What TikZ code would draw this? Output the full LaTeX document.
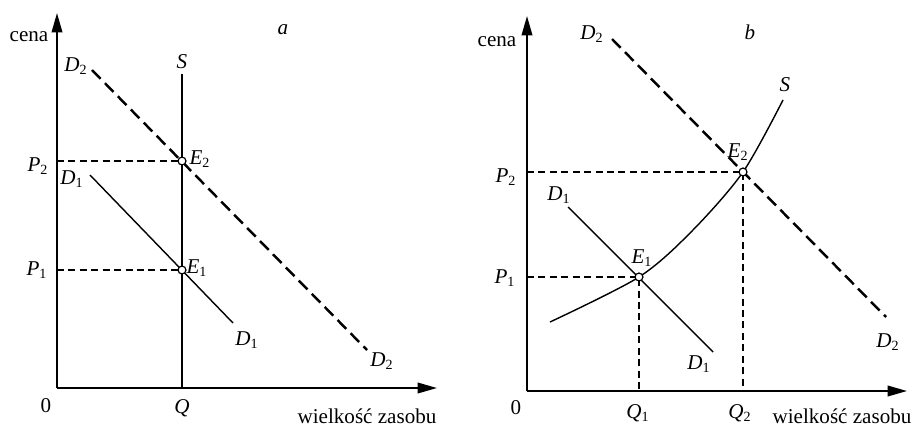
\documentclass[tikz,border=0pt]{standalone}
\usepackage{fontspec}
\setmainfont{Liberation Serif}
\usepackage{tikz}
\usetikzlibrary{arrows.meta}
\newcommand{\lbl}[2]{\textit{#1}\textsubscript{#2}}

\begin{document}
\begin{tikzpicture}[x=0.02cm,y=-0.02cm,
  axis/.style={line width=1.1pt,-{Triangle[length=11pt,width=6pt]}},
  curve/.style={line width=0.8pt},
  shifted/.style={line width=1.4pt,dash pattern=on 7pt off 3.5pt},
  guide/.style={line width=0.7pt,dash pattern=on 4pt off 2.5pt},
  eq/.style={circle,draw,line width=0.7pt,fill=white,inner sep=0pt,minimum size=4.5pt},
  lab/.style={font=\fontsize{12}{14}\selectfont,inner sep=0pt}]
\useasboundingbox (0,0) rectangle (915,426);
% panel a: fixed supply
\coordinate (a-O) at (57,388); \coordinate (a-Y) at (57,13); \coordinate (a-X) at (437,388);
\coordinate (a-Stop) at (182,74); \coordinate (a-Q) at (182,388);
\coordinate (a-E1) at (182,270); \coordinate (a-E2) at (182,161);
\coordinate (a-P1) at (57,270); \coordinate (a-P2) at (57,161);
\coordinate (a-D1s) at (90,175); \coordinate (a-D1e) at (233,323);
\coordinate (a-D2s) at (92,70); \coordinate (a-D2e) at (367,350);
\draw[axis] (a-O) -- (a-Y);
\draw[axis] (a-O) -- (a-X);
\draw[curve] (a-Q) -- (a-Stop);
\draw[curve] (a-D1s) -- (a-D1e);
\draw[shifted] (a-D2s) -- (a-D2e);
\draw[guide] (a-P1) -- (a-E1);
\draw[guide] (a-P2) -- (a-E2);
\node[eq] (a-e1) at (a-E1) {};
\node[eq] (a-e2) at (a-E2) {};
\node[lab] (a-cena) at (29,37) {cena};
\node[lab] (a-tag) at (283,30) {\textit{a}};
\node[lab] (a-S) at (182,62) {\textit{S}};
\node[lab] (a-D2a) at (76,66) {\lbl{D}{2}};
\node[lab] (a-D2b) at (382,361) {\lbl{D}{2}};
\node[lab] (a-D1a) at (72,179) {\lbl{D}{1}};
\node[lab] (a-D1b) at (247,340) {\lbl{D}{1}};
\node[lab] (a-E2l) at (200,159) {\lbl{E}{2}};
\node[lab] (a-E1l) at (197,268) {\lbl{E}{1}};
\node[lab] (a-P2l) at (38,166) {\lbl{P}{2}};
\node[lab] (a-P1l) at (37,270) {\lbl{P}{1}};
\node[lab] (a-zero) at (46,406) {0};
\node[lab] (a-Ql) at (182,408) {\textit{Q}};
\node[lab] (a-xl) at (367,416) {wielkość zasobu};
% panel b: rising supply
\coordinate (b-O) at (527,391); \coordinate (b-Y) at (527,16); \coordinate (b-X) at (907,391);
\coordinate (b-E1) at (639,277); \coordinate (b-E2) at (743,172);
\coordinate (b-P1) at (527,277); \coordinate (b-P2) at (527,172);
\coordinate (b-Q1) at (639,391); \coordinate (b-Q2) at (743,391);
\coordinate (b-S0) at (550,322); \coordinate (b-Sm) at (692,231); \coordinate (b-S1) at (783,100);
\coordinate (b-D1s) at (568,207); \coordinate (b-D1e) at (713,352);
\coordinate (b-D2s) at (612,39); \coordinate (b-D2e) at (886,317);
\draw[axis] (b-O) -- (b-Y);
\draw[axis] (b-O) -- (b-X);
\draw[curve] plot[smooth] coordinates {(b-S0) (b-E1) (b-Sm) (b-E2) (b-S1)};
\draw[curve] (b-D1s) -- (b-D1e);
\draw[shifted] (b-D2s) -- (b-D2e);
\draw[guide] (b-P1) -- (b-E1) -- (b-Q1);
\draw[guide] (b-P2) -- (b-E2) -- (b-Q2);
\node[eq] (b-e1) at (b-E1) {};
\node[eq] (b-e2) at (b-E2) {};
\node[lab] (b-cena) at (497,42) {cena};
\node[lab] (b-tag) at (750,32) {\textit{b}};
\node[lab] (b-S) at (785,85) {\textit{S}};
\node[lab] (b-D2a) at (592,34) {\lbl{D}{2}};
\node[lab] (b-D2b) at (888,342) {\lbl{D}{2}};
\node[lab] (b-D1a) at (559,195) {\lbl{D}{1}};
\node[lab] (b-D1b) at (699,364) {\lbl{D}{1}};
\node[lab] (b-E2l) at (738,152) {\lbl{E}{2}};
\node[lab] (b-E1l) at (642,258) {\lbl{E}{1}};
\node[lab] (b-P2l) at (506,177) {\lbl{P}{2}};
\node[lab] (b-P1l) at (505,278) {\lbl{P}{1}};
\node[lab] (b-zero) at (516,408) {0};
\node[lab] (b-Q1l) at (638,413) {\lbl{Q}{1}};
\node[lab] (b-Q2l) at (740,413) {\lbl{Q}{2}};
\node[lab] (b-xl) at (842,416) {wielkość zasobu};
\end{tikzpicture}
\end{document}
